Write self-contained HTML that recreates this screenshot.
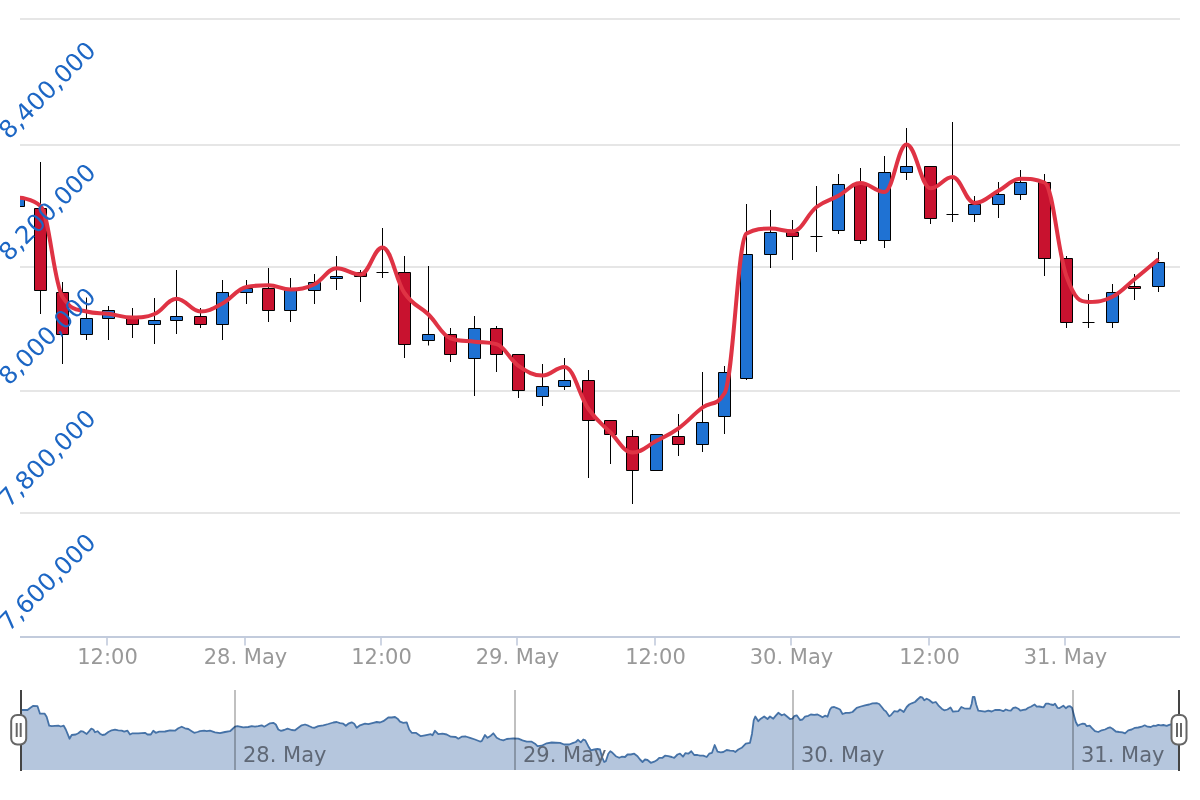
<!DOCTYPE html>
<html lang="en"><head><meta charset="utf-8"><title>Chart</title>
<style>html,body{margin:0;padding:0;background:#fff;}body{width:1200px;height:800px;overflow:hidden;}svg{display:block;}text{font-family:'DejaVu Sans', 'Liberation Sans', sans-serif;}</style>
</head><body>
<svg width="1200" height="800" viewBox="0 0 1200 800">
<defs><clipPath id="plot"><rect x="20" y="19" width="1160" height="618"/></clipPath><clipPath id="nav"><rect x="20" y="690" width="1160" height="80"/></clipPath></defs>
<rect width="1200" height="800" fill="#ffffff"/>
<g stroke="#e6e6e6" stroke-width="2">
<path d="M 20 19 L 1180 19"/>
<path d="M 20 145 L 1180 145"/>
<path d="M 20 267 L 1180 267"/>
<path d="M 20 391 L 1180 391"/>
<path d="M 20 513 L 1180 513"/>
</g>
<path d="M 20 637 L 1180 637" stroke="#c2cbdc" stroke-width="2"/>
<g stroke="#c2cbdc" stroke-width="1.6">
<path d="M 107 637 L 107 645.5"/>
<path d="M 245 637 L 245 645.5"/>
<path d="M 381 637 L 381 645.5"/>
<path d="M 517 637 L 517 645.5"/>
<path d="M 655 637 L 655 645.5"/>
<path d="M 791 637 L 791 645.5"/>
<path d="M 929 637 L 929 645.5"/>
<path d="M 1065 637 L 1065 645.5"/>
</g>
<g clip-path="url(#plot)" stroke="#000000" stroke-width="1">
<path d="M 12.5 206.5 L 12.5 198.5 L 24.5 198.5 L 24.5 206.5 Z M 18.5 198.5 L 18.5 198.5 M 18.5 206.5 L 18.5 206.5" fill="#1f72d3"/>
<path d="M 34.5 290.5 L 34.5 208.5 L 46.5 208.5 L 46.5 290.5 Z M 40.5 208.5 L 40.5 162.0 M 40.5 290.5 L 40.5 314.0" fill="#c8122f"/>
<path d="M 56.5 334.5 L 56.5 292.5 L 68.5 292.5 L 68.5 334.5 Z M 62.5 292.5 L 62.5 282.0 M 62.5 334.5 L 62.5 364.0" fill="#c8122f"/>
<path d="M 80.5 334.5 L 80.5 318.5 L 92.5 318.5 L 92.5 334.5 Z M 86.5 318.5 L 86.5 297.5 M 86.5 334.5 L 86.5 340.0" fill="#1f72d3"/>
<path d="M 102.5 318.5 L 102.5 310.5 L 114.5 310.5 L 114.5 318.5 Z M 108.5 310.5 L 108.5 306.0 M 108.5 318.5 L 108.5 340.0" fill="#1f72d3"/>
<path d="M 126.5 324.5 L 126.5 318.5 L 138.5 318.5 L 138.5 324.5 Z M 132.5 318.5 L 132.5 308.0 M 132.5 324.5 L 132.5 338.0" fill="#c8122f"/>
<path d="M 148.5 324.5 L 148.5 320.5 L 160.5 320.5 L 160.5 324.5 Z M 154.5 320.5 L 154.5 298.0 M 154.5 324.5 L 154.5 344.0" fill="#1f72d3"/>
<path d="M 170.5 320.5 L 170.5 316.5 L 182.5 316.5 L 182.5 320.5 Z M 176.5 316.5 L 176.5 270.0 M 176.5 320.5 L 176.5 334.0" fill="#1f72d3"/>
<path d="M 194.5 324.5 L 194.5 316.5 L 206.5 316.5 L 206.5 324.5 Z M 200.5 316.5 L 200.5 308.0 M 200.5 324.5 L 200.5 328.0" fill="#c8122f"/>
<path d="M 216.5 324.5 L 216.5 292.5 L 228.5 292.5 L 228.5 324.5 Z M 222.5 292.5 L 222.5 280.0 M 222.5 324.5 L 222.5 340.0" fill="#1f72d3"/>
<path d="M 240.5 292.5 L 240.5 288.5 L 252.5 288.5 L 252.5 292.5 Z M 246.5 288.5 L 246.5 280.0 M 246.5 292.5 L 246.5 304.0" fill="#1f72d3"/>
<path d="M 262.5 310.5 L 262.5 288.5 L 274.5 288.5 L 274.5 310.5 Z M 268.5 288.5 L 268.5 268.0 M 268.5 310.5 L 268.5 322.0" fill="#c8122f"/>
<path d="M 284.5 310.5 L 284.5 290.5 L 296.5 290.5 L 296.5 310.5 Z M 290.5 290.5 L 290.5 278.0 M 290.5 310.5 L 290.5 322.0" fill="#1f72d3"/>
<path d="M 308.5 290.5 L 308.5 282.5 L 320.5 282.5 L 320.5 290.5 Z M 314.5 282.5 L 314.5 274.0 M 314.5 290.5 L 314.5 304.0" fill="#1f72d3"/>
<path d="M 330.5 278.5 L 330.5 276.5 L 342.5 276.5 L 342.5 278.5 Z M 336.5 276.5 L 336.5 256.0 M 336.5 278.5 L 336.5 290.0" fill="#1f72d3"/>
<path d="M 354.5 276.5 L 354.5 272.5 L 366.5 272.5 L 366.5 276.5 Z M 360.5 272.5 L 360.5 270.0 M 360.5 276.5 L 360.5 302.0" fill="#c8122f"/>
<path d="M 376.5 272.5 L 388.5 272.5 M 382.5 228.0 L 382.5 278.0" fill="none"/>
<path d="M 398.5 344.5 L 398.5 272.5 L 410.5 272.5 L 410.5 344.5 Z M 404.5 272.5 L 404.5 256.0 M 404.5 344.5 L 404.5 358.0" fill="#c8122f"/>
<path d="M 422.5 340.5 L 422.5 334.5 L 434.5 334.5 L 434.5 340.5 Z M 428.5 334.5 L 428.5 266.0 M 428.5 340.5 L 428.5 345.5" fill="#1f72d3"/>
<path d="M 444.5 354.5 L 444.5 334.5 L 456.5 334.5 L 456.5 354.5 Z M 450.5 334.5 L 450.5 328.0 M 450.5 354.5 L 450.5 362.0" fill="#c8122f"/>
<path d="M 468.5 358.5 L 468.5 328.5 L 480.5 328.5 L 480.5 358.5 Z M 474.5 328.5 L 474.5 316.0 M 474.5 358.5 L 474.5 396.0" fill="#1f72d3"/>
<path d="M 490.5 354.5 L 490.5 328.5 L 502.5 328.5 L 502.5 354.5 Z M 496.5 328.5 L 496.5 326.0 M 496.5 354.5 L 496.5 372.0" fill="#c8122f"/>
<path d="M 512.5 390.5 L 512.5 354.5 L 524.5 354.5 L 524.5 390.5 Z M 518.5 354.5 L 518.5 354.5 M 518.5 390.5 L 518.5 398.0" fill="#c8122f"/>
<path d="M 536.5 396.5 L 536.5 386.5 L 548.5 386.5 L 548.5 396.5 Z M 542.5 386.5 L 542.5 364.0 M 542.5 396.5 L 542.5 406.0" fill="#1f72d3"/>
<path d="M 558.5 386.5 L 558.5 380.5 L 570.5 380.5 L 570.5 386.5 Z M 564.5 380.5 L 564.5 358.0 M 564.5 386.5 L 564.5 390.0" fill="#1f72d3"/>
<path d="M 582.5 420.5 L 582.5 380.5 L 594.5 380.5 L 594.5 420.5 Z M 588.5 380.5 L 588.5 370.0 M 588.5 420.5 L 588.5 478.0" fill="#c8122f"/>
<path d="M 604.5 434.5 L 604.5 420.5 L 616.5 420.5 L 616.5 434.5 Z M 610.5 420.5 L 610.5 420.5 M 610.5 434.5 L 610.5 464.0" fill="#c8122f"/>
<path d="M 626.5 470.5 L 626.5 436.5 L 638.5 436.5 L 638.5 470.5 Z M 632.5 436.5 L 632.5 430.0 M 632.5 470.5 L 632.5 504.0" fill="#c8122f"/>
<path d="M 650.5 470.5 L 650.5 434.5 L 662.5 434.5 L 662.5 470.5 Z M 656.5 434.5 L 656.5 434.5 M 656.5 470.5 L 656.5 470.5" fill="#1f72d3"/>
<path d="M 672.5 444.5 L 672.5 436.5 L 684.5 436.5 L 684.5 444.5 Z M 678.5 436.5 L 678.5 414.0 M 678.5 444.5 L 678.5 456.0" fill="#c8122f"/>
<path d="M 696.5 444.5 L 696.5 422.5 L 708.5 422.5 L 708.5 444.5 Z M 702.5 422.5 L 702.5 372.0 M 702.5 444.5 L 702.5 452.0" fill="#1f72d3"/>
<path d="M 718.5 416.5 L 718.5 372.5 L 730.5 372.5 L 730.5 416.5 Z M 724.5 372.5 L 724.5 366.0 M 724.5 416.5 L 724.5 434.0" fill="#1f72d3"/>
<path d="M 740.5 378.5 L 740.5 254.5 L 752.5 254.5 L 752.5 378.5 Z M 746.5 254.5 L 746.5 204.0 M 746.5 378.5 L 746.5 380.0" fill="#1f72d3"/>
<path d="M 764.5 254.5 L 764.5 232.5 L 776.5 232.5 L 776.5 254.5 Z M 770.5 232.5 L 770.5 210.0 M 770.5 254.5 L 770.5 268.0" fill="#1f72d3"/>
<path d="M 786.5 236.5 L 786.5 232.5 L 798.5 232.5 L 798.5 236.5 Z M 792.5 232.5 L 792.5 220.0 M 792.5 236.5 L 792.5 260.0" fill="#c8122f"/>
<path d="M 810.5 236.5 L 822.5 236.5 M 816.5 186.0 L 816.5 252.0" fill="none"/>
<path d="M 832.5 230.5 L 832.5 184.5 L 844.5 184.5 L 844.5 230.5 Z M 838.5 184.5 L 838.5 174.0 M 838.5 230.5 L 838.5 234.0" fill="#1f72d3"/>
<path d="M 854.5 240.5 L 854.5 184.5 L 866.5 184.5 L 866.5 240.5 Z M 860.5 184.5 L 860.5 168.0 M 860.5 240.5 L 860.5 244.0" fill="#c8122f"/>
<path d="M 878.5 240.5 L 878.5 172.5 L 890.5 172.5 L 890.5 240.5 Z M 884.5 172.5 L 884.5 156.0 M 884.5 240.5 L 884.5 248.0" fill="#1f72d3"/>
<path d="M 900.5 172.5 L 900.5 166.5 L 912.5 166.5 L 912.5 172.5 Z M 906.5 166.5 L 906.5 128.0 M 906.5 172.5 L 906.5 180.0" fill="#1f72d3"/>
<path d="M 924.5 218.5 L 924.5 166.5 L 936.5 166.5 L 936.5 218.5 Z M 930.5 166.5 L 930.5 166.5 M 930.5 218.5 L 930.5 224.0" fill="#c8122f"/>
<path d="M 946.5 214.5 L 958.5 214.5 M 952.5 122.0 L 952.5 222.0" fill="none"/>
<path d="M 968.5 214.5 L 968.5 204.5 L 980.5 204.5 L 980.5 214.5 Z M 974.5 204.5 L 974.5 196.0 M 974.5 214.5 L 974.5 222.0" fill="#1f72d3"/>
<path d="M 992.5 204.5 L 992.5 194.5 L 1004.5 194.5 L 1004.5 204.5 Z M 998.5 194.5 L 998.5 182.0 M 998.5 204.5 L 998.5 218.0" fill="#1f72d3"/>
<path d="M 1014.5 194.5 L 1014.5 182.5 L 1026.5 182.5 L 1026.5 194.5 Z M 1020.5 182.5 L 1020.5 170.0 M 1020.5 194.5 L 1020.5 200.0" fill="#1f72d3"/>
<path d="M 1038.5 258.5 L 1038.5 182.5 L 1050.5 182.5 L 1050.5 258.5 Z M 1044.5 182.5 L 1044.5 174.0 M 1044.5 258.5 L 1044.5 276.0" fill="#c8122f"/>
<path d="M 1060.5 322.5 L 1060.5 258.5 L 1072.5 258.5 L 1072.5 322.5 Z M 1066.5 258.5 L 1066.5 256.0 M 1066.5 322.5 L 1066.5 328.0" fill="#c8122f"/>
<path d="M 1082.5 322.5 L 1094.5 322.5 M 1088.5 294.0 L 1088.5 328.0" fill="none"/>
<path d="M 1106.5 322.5 L 1106.5 292.5 L 1118.5 292.5 L 1118.5 322.5 Z M 1112.5 292.5 L 1112.5 284.0 M 1112.5 322.5 L 1112.5 328.0" fill="#1f72d3"/>
<path d="M 1128.5 288.5 L 1128.5 286.5 L 1140.5 286.5 L 1140.5 288.5 Z M 1134.5 286.5 L 1134.5 274.0 M 1134.5 288.5 L 1134.5 300.0" fill="#c8122f"/>
<path d="M 1152.5 286.5 L 1152.5 262.5 L 1164.5 262.5 L 1164.5 286.5 Z M 1158.5 262.5 L 1158.5 252.0 M 1158.5 286.5 L 1158.5 292.0" fill="#1f72d3"/>
</g>
<g clip-path="url(#plot)"><path d="M 18.50 197.80 C 18.50 197.80 31.70 197.80 40.50 206.00 C 49.30 214.20 53.70 282.50 62.50 297.00 C 72.10 311.50 76.90 309.20 86.50 311.50 C 95.30 313.80 99.70 312.65 108.50 313.80 C 118.10 315.05 122.90 317.50 132.50 317.50 C 141.30 317.50 145.70 317.50 154.50 314.00 C 163.30 310.50 167.70 298.70 176.50 298.70 C 186.10 298.70 190.90 311.50 200.50 311.50 C 209.30 311.50 213.70 308.19 222.50 303.50 C 232.10 298.39 236.90 288.80 246.50 287.00 C 255.30 285.20 259.70 285.20 268.50 285.20 C 277.30 285.20 281.70 289.50 290.50 289.50 C 300.10 289.50 304.90 288.62 314.50 284.20 C 323.30 280.14 327.70 268.30 336.50 268.30 C 346.10 268.30 350.90 274.50 360.50 274.50 C 369.30 274.50 373.70 247.50 382.50 247.50 C 391.30 247.50 395.70 280.18 404.50 293.00 C 414.10 306.98 418.90 305.05 428.50 314.50 C 437.30 323.17 441.70 334.90 450.50 338.30 C 460.10 341.70 464.90 340.47 474.50 341.70 C 483.30 342.83 487.70 341.70 496.50 344.20 C 505.30 346.70 509.70 359.81 518.50 365.80 C 528.10 372.33 532.90 375.50 542.50 375.50 C 551.30 375.50 555.70 367.00 564.50 367.00 C 574.10 367.00 578.90 395.33 588.50 409.00 C 597.30 421.53 601.70 423.80 610.50 432.50 C 619.30 441.20 623.70 452.50 632.50 452.50 C 642.10 452.50 646.90 445.85 656.50 440.80 C 665.30 436.17 669.70 434.67 678.50 428.30 C 688.10 421.35 692.90 414.80 702.50 407.50 C 711.30 400.80 715.70 407.50 724.50 393.30 C 733.30 379.10 737.70 238.40 746.50 233.50 C 756.10 228.60 760.90 228.60 770.50 228.60 C 779.30 228.60 783.70 231.30 792.50 231.30 C 802.10 231.30 806.90 214.41 816.50 207.00 C 825.30 200.21 829.70 200.60 838.50 195.80 C 847.30 191.00 851.70 183.00 860.50 183.00 C 870.10 183.00 874.90 192.00 884.50 192.00 C 893.30 192.00 897.70 144.50 906.50 144.50 C 916.10 144.50 920.90 188.30 930.50 188.30 C 939.30 188.30 943.70 177.00 952.50 177.00 C 961.30 177.00 965.70 203.00 974.50 203.00 C 984.10 203.00 988.90 195.87 998.50 190.80 C 1007.30 186.15 1011.70 178.70 1020.50 178.70 C 1030.10 178.70 1034.90 178.70 1044.50 182.50 C 1053.30 186.30 1057.70 252.60 1066.50 276.50 C 1075.30 300.40 1079.70 302.00 1088.50 302.00 C 1098.10 302.00 1102.90 301.46 1112.50 296.70 C 1121.30 292.34 1125.70 286.37 1134.50 279.20 C 1144.10 271.37 1158.50 259.20 1158.50 259.20" fill="none" stroke="#df3344" stroke-width="4" stroke-linejoin="round" stroke-linecap="butt"/></g>
<g fill="#1c66c4" font-size="24.5px">
<text x="9.0" y="140.2" transform="rotate(-45 9.0 140.2)">8,400,000</text>
<text x="9.0" y="262.2" transform="rotate(-45 9.0 262.2)">8,200,000</text>
<text x="9.0" y="386.2" transform="rotate(-45 9.0 386.2)">8,000,000</text>
<text x="9.0" y="508.2" transform="rotate(-45 9.0 508.2)">7,800,000</text>
<text x="9.0" y="632.2" transform="rotate(-45 9.0 632.2)">7,600,000</text>
</g>
<g fill="#999999" font-size="21px" text-anchor="middle">
<text x="107.5" y="664">12:00</text>
<text x="245.5" y="664">28. May</text>
<text x="381.5" y="664">12:00</text>
<text x="517.5" y="664">29. May</text>
<text x="655.5" y="664">12:00</text>
<text x="791.5" y="664">30. May</text>
<text x="929.5" y="664">12:00</text>
<text x="1065.5" y="664">31. May</text>
</g>
<g clip-path="url(#nav)">
<path d="M 20.0 710.0 L 27.5 710.0 L 30.8 707.5 L 33.3 705.8 L 37.5 706.2 L 40.0 713.7 L 44.7 713.7 L 46.7 717.0 L 49.2 725.7 L 51.7 726.2 L 58.3 725.7 L 60.8 726.5 L 63.7 725.7 L 65.8 729.5 L 67.5 733.7 L 69.5 738.7 L 71.7 735.0 L 75.8 734.5 L 78.3 733.3 L 80.8 731.2 L 83.3 731.7 L 86.7 734.0 L 89.2 731.2 L 91.3 728.7 L 93.3 729.5 L 95.0 732.3 L 97.5 731.2 L 100.0 733.7 L 102.5 735.0 L 105.0 734.5 L 108.3 732.0 L 111.7 730.3 L 115.0 729.7 L 118.3 730.3 L 121.7 730.7 L 124.2 731.7 L 127.5 730.7 L 130.0 734.5 L 132.5 733.3 L 138.3 733.3 L 145.0 732.8 L 147.5 734.5 L 150.8 734.5 L 153.3 730.7 L 155.8 732.8 L 159.2 731.7 L 165.0 731.5 L 170.0 730.3 L 175.0 730.7 L 178.3 728.3 L 181.7 726.7 L 185.0 728.3 L 188.3 729.0 L 191.7 731.2 L 194.2 732.8 L 197.5 732.0 L 200.0 731.2 L 204.2 730.7 L 206.7 731.2 L 210.0 730.7 L 215.0 732.3 L 220.0 733.2 L 225.0 732.0 L 230.0 731.2 L 232.5 729.0 L 235.0 726.7 L 237.5 726.2 L 243.3 727.3 L 248.3 727.0 L 251.7 726.2 L 255.0 726.7 L 258.3 726.2 L 261.7 725.3 L 264.2 726.7 L 266.7 725.3 L 270.0 723.3 L 273.3 722.8 L 275.8 724.5 L 278.3 729.5 L 280.8 730.8 L 284.2 730.0 L 287.5 728.7 L 291.7 730.0 L 295.0 730.3 L 298.3 727.8 L 301.7 725.3 L 305.0 724.5 L 308.3 725.7 L 311.7 727.3 L 314.2 727.8 L 318.3 726.2 L 323.3 725.3 L 328.3 724.0 L 333.3 722.5 L 336.7 722.0 L 340.0 723.2 L 343.3 723.7 L 345.8 725.7 L 348.3 723.7 L 351.7 722.3 L 354.2 723.7 L 356.7 727.8 L 360.0 725.3 L 365.0 723.7 L 368.3 724.2 L 373.3 722.8 L 376.7 722.0 L 380.0 722.5 L 383.3 721.2 L 388.3 717.5 L 391.7 717.5 L 395.0 717.0 L 397.5 718.7 L 400.0 721.7 L 403.3 722.8 L 406.7 722.3 L 409.2 729.5 L 411.7 732.8 L 415.8 732.8 L 420.8 736.2 L 425.0 735.3 L 430.8 734.2 L 432.5 735.3 L 435.0 730.8 L 438.3 734.2 L 442.5 733.7 L 446.7 734.5 L 450.8 736.7 L 455.8 737.0 L 458.3 738.7 L 461.7 736.7 L 465.8 736.5 L 470.0 737.8 L 475.0 739.5 L 480.0 741.5 L 481.7 741.2 L 485.0 735.0 L 487.5 737.8 L 490.8 735.7 L 493.3 733.3 L 496.7 737.8 L 500.0 739.5 L 503.3 740.3 L 506.7 739.0 L 513.3 738.3 L 518.3 738.7 L 522.5 740.3 L 526.7 741.7 L 531.7 741.7 L 535.0 743.7 L 537.5 746.2 L 541.7 745.7 L 546.7 743.3 L 551.7 742.5 L 560.0 742.8 L 564.2 744.5 L 569.2 744.5 L 573.3 742.8 L 575.8 742.0 L 578.0 739.8 L 580.8 742.3 L 583.3 739.5 L 585.3 740.3 L 588.3 746.2 L 590.8 750.3 L 594.2 749.5 L 597.5 749.0 L 600.0 749.5 L 602.0 757.0 L 604.2 762.0 L 605.8 761.2 L 608.3 753.7 L 610.3 751.2 L 612.5 752.8 L 615.8 756.2 L 619.2 757.8 L 621.7 756.7 L 625.0 757.0 L 627.5 754.5 L 630.8 754.5 L 634.2 753.7 L 637.5 756.2 L 640.0 759.5 L 642.5 762.0 L 645.0 759.5 L 647.5 760.0 L 650.8 762.8 L 654.2 761.7 L 656.7 760.3 L 659.2 757.8 L 662.5 757.8 L 665.0 755.7 L 668.3 756.2 L 671.7 757.0 L 674.2 757.8 L 677.5 754.5 L 680.0 753.7 L 683.0 756.7 L 685.3 753.2 L 688.3 753.7 L 691.3 751.2 L 694.2 755.0 L 697.5 755.0 L 700.0 755.7 L 703.3 755.7 L 706.7 757.0 L 709.2 753.7 L 712.0 752.8 L 714.7 745.0 L 717.5 751.7 L 720.8 752.3 L 723.3 752.0 L 726.7 750.0 L 730.0 750.7 L 733.3 750.8 L 735.3 752.0 L 738.3 749.5 L 741.7 747.8 L 745.8 743.7 L 750.0 742.8 L 752.0 733.7 L 753.7 720.3 L 755.3 716.5 L 758.3 721.2 L 760.8 718.7 L 764.2 716.5 L 767.5 719.0 L 770.0 716.5 L 773.3 718.7 L 775.8 715.7 L 778.3 712.8 L 781.7 715.3 L 784.2 714.2 L 786.7 716.2 L 790.0 719.0 L 792.5 718.7 L 794.2 716.2 L 796.7 715.3 L 799.2 718.7 L 800.0 720.0 L 802.5 719.5 L 805.0 716.7 L 808.3 715.8 L 810.8 714.5 L 814.2 714.8 L 817.5 714.5 L 820.0 715.7 L 822.5 717.3 L 825.0 715.7 L 827.5 716.7 L 830.0 709.5 L 831.7 707.3 L 834.2 707.0 L 837.5 708.3 L 840.0 709.5 L 842.5 714.0 L 845.8 712.8 L 849.2 712.8 L 852.5 712.0 L 856.7 707.8 L 860.8 706.5 L 865.0 705.3 L 869.2 704.5 L 872.5 703.3 L 876.7 703.2 L 879.2 704.0 L 881.7 707.0 L 884.2 710.3 L 885.8 711.2 L 889.2 716.2 L 890.8 715.3 L 894.2 711.2 L 897.5 711.7 L 900.0 709.5 L 902.0 710.7 L 903.7 712.0 L 906.7 707.0 L 909.2 704.5 L 911.7 703.3 L 915.0 702.0 L 917.5 699.5 L 920.3 697.0 L 922.2 697.3 L 924.2 700.3 L 926.7 698.7 L 929.2 700.0 L 932.5 702.8 L 935.8 702.0 L 938.3 705.3 L 941.7 708.7 L 944.2 710.3 L 947.5 709.5 L 950.5 707.5 L 953.0 711.7 L 958.3 711.2 L 961.3 707.0 L 964.2 708.3 L 966.7 708.7 L 970.0 708.7 L 971.7 703.7 L 972.8 697.0 L 974.5 697.0 L 976.2 704.5 L 978.3 710.7 L 981.7 711.2 L 985.0 711.7 L 988.3 710.7 L 991.7 711.5 L 995.0 710.0 L 997.5 709.8 L 1000.0 710.0 L 1003.3 711.2 L 1005.8 709.5 L 1008.3 710.3 L 1010.8 710.7 L 1013.3 707.8 L 1015.8 707.5 L 1018.3 708.7 L 1020.3 710.7 L 1023.3 709.8 L 1025.8 709.5 L 1028.3 707.8 L 1030.8 706.7 L 1033.3 705.3 L 1034.7 704.5 L 1036.7 706.7 L 1039.2 706.5 L 1041.7 707.0 L 1043.7 707.3 L 1045.8 703.7 L 1048.3 703.7 L 1050.8 704.5 L 1053.3 705.0 L 1055.0 703.7 L 1057.5 707.8 L 1059.2 708.2 L 1061.7 706.7 L 1063.3 705.7 L 1065.8 708.2 L 1068.0 706.5 L 1070.0 706.2 L 1072.0 707.8 L 1074.2 716.2 L 1075.8 722.0 L 1077.8 725.7 L 1080.0 724.5 L 1082.8 723.7 L 1085.0 724.0 L 1086.7 726.2 L 1089.7 725.7 L 1091.7 727.8 L 1095.0 731.2 L 1098.3 732.0 L 1101.7 730.3 L 1105.0 729.5 L 1107.5 728.2 L 1110.0 727.3 L 1112.5 728.7 L 1115.8 731.5 L 1119.2 732.0 L 1122.5 732.3 L 1125.0 733.3 L 1128.3 730.3 L 1131.7 729.5 L 1135.0 727.8 L 1138.3 727.5 L 1141.7 726.7 L 1144.7 725.3 L 1147.5 726.7 L 1150.8 727.0 L 1153.3 725.7 L 1155.8 725.8 L 1158.3 724.8 L 1160.8 725.3 L 1163.3 725.0 L 1166.7 725.8 L 1169.2 724.8 L 1170.8 724.5 L 1178.3 724.3 L 1178.3 770 L 20.0 770 Z" fill="#b5c6dd" stroke="none"/>
<path d="M 20.0 710.0 L 27.5 710.0 L 30.8 707.5 L 33.3 705.8 L 37.5 706.2 L 40.0 713.7 L 44.7 713.7 L 46.7 717.0 L 49.2 725.7 L 51.7 726.2 L 58.3 725.7 L 60.8 726.5 L 63.7 725.7 L 65.8 729.5 L 67.5 733.7 L 69.5 738.7 L 71.7 735.0 L 75.8 734.5 L 78.3 733.3 L 80.8 731.2 L 83.3 731.7 L 86.7 734.0 L 89.2 731.2 L 91.3 728.7 L 93.3 729.5 L 95.0 732.3 L 97.5 731.2 L 100.0 733.7 L 102.5 735.0 L 105.0 734.5 L 108.3 732.0 L 111.7 730.3 L 115.0 729.7 L 118.3 730.3 L 121.7 730.7 L 124.2 731.7 L 127.5 730.7 L 130.0 734.5 L 132.5 733.3 L 138.3 733.3 L 145.0 732.8 L 147.5 734.5 L 150.8 734.5 L 153.3 730.7 L 155.8 732.8 L 159.2 731.7 L 165.0 731.5 L 170.0 730.3 L 175.0 730.7 L 178.3 728.3 L 181.7 726.7 L 185.0 728.3 L 188.3 729.0 L 191.7 731.2 L 194.2 732.8 L 197.5 732.0 L 200.0 731.2 L 204.2 730.7 L 206.7 731.2 L 210.0 730.7 L 215.0 732.3 L 220.0 733.2 L 225.0 732.0 L 230.0 731.2 L 232.5 729.0 L 235.0 726.7 L 237.5 726.2 L 243.3 727.3 L 248.3 727.0 L 251.7 726.2 L 255.0 726.7 L 258.3 726.2 L 261.7 725.3 L 264.2 726.7 L 266.7 725.3 L 270.0 723.3 L 273.3 722.8 L 275.8 724.5 L 278.3 729.5 L 280.8 730.8 L 284.2 730.0 L 287.5 728.7 L 291.7 730.0 L 295.0 730.3 L 298.3 727.8 L 301.7 725.3 L 305.0 724.5 L 308.3 725.7 L 311.7 727.3 L 314.2 727.8 L 318.3 726.2 L 323.3 725.3 L 328.3 724.0 L 333.3 722.5 L 336.7 722.0 L 340.0 723.2 L 343.3 723.7 L 345.8 725.7 L 348.3 723.7 L 351.7 722.3 L 354.2 723.7 L 356.7 727.8 L 360.0 725.3 L 365.0 723.7 L 368.3 724.2 L 373.3 722.8 L 376.7 722.0 L 380.0 722.5 L 383.3 721.2 L 388.3 717.5 L 391.7 717.5 L 395.0 717.0 L 397.5 718.7 L 400.0 721.7 L 403.3 722.8 L 406.7 722.3 L 409.2 729.5 L 411.7 732.8 L 415.8 732.8 L 420.8 736.2 L 425.0 735.3 L 430.8 734.2 L 432.5 735.3 L 435.0 730.8 L 438.3 734.2 L 442.5 733.7 L 446.7 734.5 L 450.8 736.7 L 455.8 737.0 L 458.3 738.7 L 461.7 736.7 L 465.8 736.5 L 470.0 737.8 L 475.0 739.5 L 480.0 741.5 L 481.7 741.2 L 485.0 735.0 L 487.5 737.8 L 490.8 735.7 L 493.3 733.3 L 496.7 737.8 L 500.0 739.5 L 503.3 740.3 L 506.7 739.0 L 513.3 738.3 L 518.3 738.7 L 522.5 740.3 L 526.7 741.7 L 531.7 741.7 L 535.0 743.7 L 537.5 746.2 L 541.7 745.7 L 546.7 743.3 L 551.7 742.5 L 560.0 742.8 L 564.2 744.5 L 569.2 744.5 L 573.3 742.8 L 575.8 742.0 L 578.0 739.8 L 580.8 742.3 L 583.3 739.5 L 585.3 740.3 L 588.3 746.2 L 590.8 750.3 L 594.2 749.5 L 597.5 749.0 L 600.0 749.5 L 602.0 757.0 L 604.2 762.0 L 605.8 761.2 L 608.3 753.7 L 610.3 751.2 L 612.5 752.8 L 615.8 756.2 L 619.2 757.8 L 621.7 756.7 L 625.0 757.0 L 627.5 754.5 L 630.8 754.5 L 634.2 753.7 L 637.5 756.2 L 640.0 759.5 L 642.5 762.0 L 645.0 759.5 L 647.5 760.0 L 650.8 762.8 L 654.2 761.7 L 656.7 760.3 L 659.2 757.8 L 662.5 757.8 L 665.0 755.7 L 668.3 756.2 L 671.7 757.0 L 674.2 757.8 L 677.5 754.5 L 680.0 753.7 L 683.0 756.7 L 685.3 753.2 L 688.3 753.7 L 691.3 751.2 L 694.2 755.0 L 697.5 755.0 L 700.0 755.7 L 703.3 755.7 L 706.7 757.0 L 709.2 753.7 L 712.0 752.8 L 714.7 745.0 L 717.5 751.7 L 720.8 752.3 L 723.3 752.0 L 726.7 750.0 L 730.0 750.7 L 733.3 750.8 L 735.3 752.0 L 738.3 749.5 L 741.7 747.8 L 745.8 743.7 L 750.0 742.8 L 752.0 733.7 L 753.7 720.3 L 755.3 716.5 L 758.3 721.2 L 760.8 718.7 L 764.2 716.5 L 767.5 719.0 L 770.0 716.5 L 773.3 718.7 L 775.8 715.7 L 778.3 712.8 L 781.7 715.3 L 784.2 714.2 L 786.7 716.2 L 790.0 719.0 L 792.5 718.7 L 794.2 716.2 L 796.7 715.3 L 799.2 718.7 L 800.0 720.0 L 802.5 719.5 L 805.0 716.7 L 808.3 715.8 L 810.8 714.5 L 814.2 714.8 L 817.5 714.5 L 820.0 715.7 L 822.5 717.3 L 825.0 715.7 L 827.5 716.7 L 830.0 709.5 L 831.7 707.3 L 834.2 707.0 L 837.5 708.3 L 840.0 709.5 L 842.5 714.0 L 845.8 712.8 L 849.2 712.8 L 852.5 712.0 L 856.7 707.8 L 860.8 706.5 L 865.0 705.3 L 869.2 704.5 L 872.5 703.3 L 876.7 703.2 L 879.2 704.0 L 881.7 707.0 L 884.2 710.3 L 885.8 711.2 L 889.2 716.2 L 890.8 715.3 L 894.2 711.2 L 897.5 711.7 L 900.0 709.5 L 902.0 710.7 L 903.7 712.0 L 906.7 707.0 L 909.2 704.5 L 911.7 703.3 L 915.0 702.0 L 917.5 699.5 L 920.3 697.0 L 922.2 697.3 L 924.2 700.3 L 926.7 698.7 L 929.2 700.0 L 932.5 702.8 L 935.8 702.0 L 938.3 705.3 L 941.7 708.7 L 944.2 710.3 L 947.5 709.5 L 950.5 707.5 L 953.0 711.7 L 958.3 711.2 L 961.3 707.0 L 964.2 708.3 L 966.7 708.7 L 970.0 708.7 L 971.7 703.7 L 972.8 697.0 L 974.5 697.0 L 976.2 704.5 L 978.3 710.7 L 981.7 711.2 L 985.0 711.7 L 988.3 710.7 L 991.7 711.5 L 995.0 710.0 L 997.5 709.8 L 1000.0 710.0 L 1003.3 711.2 L 1005.8 709.5 L 1008.3 710.3 L 1010.8 710.7 L 1013.3 707.8 L 1015.8 707.5 L 1018.3 708.7 L 1020.3 710.7 L 1023.3 709.8 L 1025.8 709.5 L 1028.3 707.8 L 1030.8 706.7 L 1033.3 705.3 L 1034.7 704.5 L 1036.7 706.7 L 1039.2 706.5 L 1041.7 707.0 L 1043.7 707.3 L 1045.8 703.7 L 1048.3 703.7 L 1050.8 704.5 L 1053.3 705.0 L 1055.0 703.7 L 1057.5 707.8 L 1059.2 708.2 L 1061.7 706.7 L 1063.3 705.7 L 1065.8 708.2 L 1068.0 706.5 L 1070.0 706.2 L 1072.0 707.8 L 1074.2 716.2 L 1075.8 722.0 L 1077.8 725.7 L 1080.0 724.5 L 1082.8 723.7 L 1085.0 724.0 L 1086.7 726.2 L 1089.7 725.7 L 1091.7 727.8 L 1095.0 731.2 L 1098.3 732.0 L 1101.7 730.3 L 1105.0 729.5 L 1107.5 728.2 L 1110.0 727.3 L 1112.5 728.7 L 1115.8 731.5 L 1119.2 732.0 L 1122.5 732.3 L 1125.0 733.3 L 1128.3 730.3 L 1131.7 729.5 L 1135.0 727.8 L 1138.3 727.5 L 1141.7 726.7 L 1144.7 725.3 L 1147.5 726.7 L 1150.8 727.0 L 1153.3 725.7 L 1155.8 725.8 L 1158.3 724.8 L 1160.8 725.3 L 1163.3 725.0 L 1166.7 725.8 L 1169.2 724.8 L 1170.8 724.5 L 1178.3 724.3" fill="none" stroke="#4572a7" stroke-width="1.8" stroke-linejoin="round"/>
</g>
<g stroke="#000000" stroke-opacity="0.33" stroke-width="1.5">
<path d="M 235 690 L 235 770"/>
<path d="M 515 690 L 515 770"/>
<path d="M 793 690 L 793 770"/>
<path d="M 1073 690 L 1073 770"/>
</g>
<g fill="#5f6876" font-size="21px">
<text x="243.0" y="761.5">28. May</text>
<text x="523.0" y="761.5">29. May</text>
<text x="801.0" y="761.5">30. May</text>
<text x="1081.0" y="761.5">31. May</text>
</g>
<g stroke="#444444" stroke-width="2"><path d="M 21 690 L 21 771"/><path d="M 1179 690 L 1179 771"/></g>
<g><rect x="11.2" y="715" width="15" height="29.5" rx="6" ry="6" fill="#ffffff" stroke="#666666" stroke-width="2"/>
<path d="M 16.7 723 L 16.7 737 M 20.7 723 L 20.7 737" stroke="#666666" stroke-width="2"/></g>
<g><rect x="1171.5" y="715" width="15" height="29.5" rx="6" ry="6" fill="#ffffff" stroke="#666666" stroke-width="2"/>
<path d="M 1177.0 723 L 1177.0 737 M 1181.0 723 L 1181.0 737" stroke="#666666" stroke-width="2"/></g>
</svg>
</body></html>
